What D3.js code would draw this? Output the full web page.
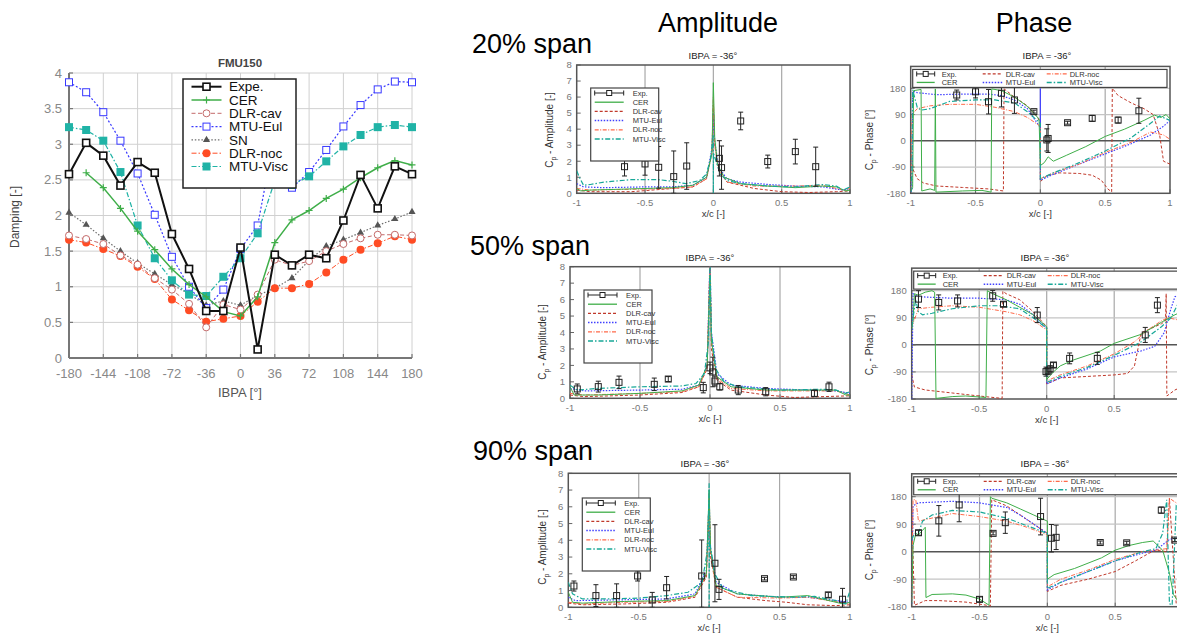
<!DOCTYPE html>
<html><head><meta charset="utf-8">
<script src="https://cdn.jsdelivr.net/npm/d3@7"></script>
<style>body{margin:0;background:#fff;} svg{display:block;font-family:"Liberation Sans",Arial,Helvetica,sans-serif;}</style>
</head><body>
<svg id="c" width="1177" height="635"></svg>
<script>
// ---------------- DATA : damping vs IBPA ----------------
const ibpa = [-180,-162,-144,-126,-108,-90,-72,-54,-36,-18,0,18,36,54,72,90,108,126,144,162,180];
const ibpaTicks = [-180,-144,-108,-72,-36,0,36,72,108,144,180];
const dampTicks = [0,0.5,1,1.5,2,2.5,3,3.5,4];
const expe    = [2.58,3.02,2.84,2.42,2.75,2.60,1.74,1.25,0.66,0.66,1.55,0.12,1.45,1.30,1.45,1.40,1.93,2.57,2.10,2.69,2.58];
const cer     = [null,2.60,2.39,2.10,1.78,1.52,1.25,1.03,0.86,0.65,0.59,0.86,1.62,1.94,2.07,2.24,2.37,2.53,2.67,2.77,2.71];
const dlrCav  = [1.72,1.67,1.60,1.44,1.31,1.12,0.96,0.76,0.43,0.75,0.68,0.89,1.38,1.30,1.36,1.50,1.60,1.68,1.73,1.73,1.72];
const mtuEul  = [3.87,3.73,3.45,3.05,2.59,2.01,1.42,1.00,0.70,0.96,1.53,1.86,3.13,2.39,2.61,2.92,3.25,3.55,3.77,3.88,3.87];
const sn      = [2.04,1.87,1.68,1.50,1.33,1.18,1.03,0.90,0.74,0.80,0.74,0.88,0.98,1.12,1.37,1.57,1.66,1.76,1.86,1.95,2.05];
const dlrNoc  = [1.66,1.62,1.53,1.43,1.28,1.11,0.82,0.67,0.51,0.55,0.59,0.79,0.98,0.98,1.04,1.20,1.38,1.52,1.61,1.71,1.66];
const mtuVisc = [3.24,3.20,3.05,2.61,1.86,1.40,1.09,0.89,0.87,1.14,1.40,1.75,2.49,2.43,2.55,2.76,2.97,3.13,3.24,3.27,3.24];
const leftLegend = ["Expe.","CER","DLR-cav","MTU-Eul","SN","DLR-noc","MTU-Visc"];

// ---------------- DATA : unsteady pressure panels ----------------
const xcTicks = [-1,-0.5,0,0.5,1];
const xcLabels = ["-1","-0.5","0","0.5","1"];
const ampTicks = [0,1,2,3,4,5,6,7,8];
const phaseTicks = [-180,-90,0,90,180];
const smallLegend = ["Exp.","CER","DLR-cav","MTU-Eul","DLR-noc","MTU-Visc"];

// 20% span amplitude
const amp20Exp = [[-0.65,1.66,0.58],[-0.5,1.83,0.7],[-0.4,1.62,1.3],[-0.29,1.04,1.6],[-0.195,1.7,1.45],[0.044,2.18,1.1],[0.06,1.6,1.35],[0.2,4.51,0.55],[0.398,1.98,0.4],[0.6,2.6,0.77],[0.749,1.66,1.22]];
const amp20Cer = [[-1,0.3],[-0.97,0.15],[-0.9,0.2],[-0.7,0.25],[-0.5,0.3],[-0.3,0.35],[-0.15,0.5],[-0.05,1.0],[-0.01,2.5],[0,6.9],[0.01,3.5],[0.03,1.8],[0.08,1.0],[0.2,0.6],[0.4,0.45],[0.6,0.35],[0.8,0.45],[0.9,0.4],[0.97,0.15],[1,0.2]];
const amp20Cav = [[-1,0.2],[-0.9,0.1],[-0.6,0.1],[-0.3,0.3],[-0.15,0.4],[-0.05,0.9],[-0.01,2.5],[0,5.5],[0.01,3],[0.04,1.5],[0.1,0.7],[0.3,0.3],[0.5,0.1],[0.7,0.05],[0.9,0.1],[1,0.15]];
const amp20Eul = [[-1,0.6],[-0.95,0.4],[-0.8,0.35],[-0.5,0.4],[-0.3,0.4],[-0.15,0.5],[-0.05,1.0],[-0.01,2.8],[0,5],[0.01,3.2],[0.04,1.6],[0.1,0.9],[0.2,0.7],[0.4,0.55],[0.6,0.45],[0.8,0.4],[0.95,0.2],[1,0.3]];
const amp20Noc = [[-1,0.3],[-0.9,0.2],[-0.6,0.25],[-0.3,0.3],[-0.15,0.4],[-0.05,0.9],[-0.01,2.6],[0,6],[0.01,3],[0.04,1.4],[0.1,0.7],[0.3,0.45],[0.6,0.45],[0.8,0.5],[0.95,0.2],[1,0.3]];
const amp20Visc = [[-1,1.4],[-0.98,1.0],[-0.95,0.5],[-0.9,0.55],[-0.8,0.7],[-0.6,0.85],[-0.4,0.85],[-0.3,0.75],[-0.2,0.6],[-0.1,0.8],[-0.05,1.2],[-0.02,2.2],[0,3.6],[0,0],[0.001,2.5],[0.05,1.2],[0.1,0.8],[0.2,0.6],[0.4,0.45],[0.6,0.4],[0.8,0.55],[0.9,0.45],[0.95,0.2],[1,0.4]];

// 20% span phase
const ph20Exp = [[-0.645,157,17],[-0.5,168,21],[-0.4,134,42],[-0.3,163,47],[-0.2,140,46],[-0.05,100,5],[0.05,3,38],[0.06,8,48],[0.21,62,5],[0.4,77,10],[0.6,71,10],[0.76,103,43]];
const ph20Cer = [[-1,-175],[-0.985,-160],[-0.978,172],[-0.92,176],[-0.915,-172],[-0.85,-165],[-0.815,-170],[-0.81,178],[-0.805,-176],[-0.6,-172],[-0.45,-170],[-0.38,-176],[-0.375,178],[-0.3,172],[-0.2,150],[-0.1,118],[-0.01,75],[0,-85],[0.03,-75],[0.06,-55],[0.1,-70],[0.2,-50],[0.35,-20],[0.5,15],[0.65,40],[0.8,70],[0.88,88],[0.93,80],[0.97,90],[1,75]];
const ph20Cav = [[-1,-30],[-0.98,-100],[-0.95,-130],[-0.9,-145],[-0.8,-155],[-0.6,-160],[-0.4,-165],[-0.285,-172],[-0.28,178],[-0.2,150],[-0.1,120],[-0.02,80],[0,60],[0,-140],[0.05,-120],[0.15,-110],[0.3,-112],[0.4,-118],[0.47,-135],[0.52,-165],[0.55,-175],[0.555,180],[0.6,155],[0.7,130],[0.8,110],[0.87,90],[0.92,20],[0.95,-70],[1,-80]];
const ph20Eul = [[-1,-175],[-0.99,-170],[-0.985,170],[-0.95,165],[-0.8,158],[-0.6,160],[-0.4,160],[-0.3,155],[-0.2,140],[-0.1,110],[0,45],[0,180],[0,-135],[0.1,-115],[0.3,-80],[0.5,-45],[0.7,-10],[0.85,20],[0.95,50],[1,70]];
const ph20Noc = [[-1,-170],[-0.99,90],[-0.95,110],[-0.85,120],[-0.7,125],[-0.5,125],[-0.35,115],[-0.2,100],[-0.1,80],[0,50],[0,-130],[0.1,-110],[0.3,-80],[0.5,-40],[0.7,-5],[0.85,30],[0.95,20],[1,5]];
const ph20Visc = [[-1,-175],[-0.99,-100],[-0.985,175],[-0.97,150],[-0.95,115],[-0.92,105],[-0.85,110],[-0.7,135],[-0.5,140],[-0.35,140],[-0.2,130],[-0.1,100],[0,60],[0,-130],[0.1,-110],[0.3,-75],[0.5,-35],[0.7,10],[0.85,60],[0.92,85],[1,70]];

// 50% span amplitude
const amp50Exp = [[-0.948,0.57,0.3],[-0.798,0.71,0.33],[-0.65,0.97,0.38],[-0.398,0.85,0.38],[-0.298,1.17,0.15],[-0.048,0.65,0.32],[0.0,1.85,0.35],[0.02,1.6,0.9],[0.035,1.05,0.3],[0.07,0.7,0.2],[0.202,0.5,0.28],[0.398,0.4,0.25],[0.746,0.3,0.2],[0.85,0.7,0.28]];
const amp50Cer = [[-1,0.7],[-0.97,0.2],[-0.8,0.2],[-0.5,0.3],[-0.2,0.45],[-0.08,0.8],[-0.02,2],[0,7.5],[0.01,3.5],[0.05,1.3],[0.15,0.7],[0.4,0.5],[0.7,0.5],[0.9,0.5],[0.97,0.2],[1,0.2]];
const amp50Cav = [[-1,0.2],[-0.9,0.1],[-0.5,0.2],[-0.2,0.35],[-0.08,0.7],[-0.02,1.8],[0,8.5],[0.01,3],[0.05,1.1],[0.15,0.5],[0.4,0.2],[0.6,0.05],[0.8,0.1],[1,0.15]];
const amp50Eul = [[-1,0.6],[-0.9,0.45],[-0.5,0.5],[-0.2,0.55],[-0.08,0.8],[-0.02,2],[0,8.5],[0.01,4],[0.05,1.5],[0.15,0.8],[0.4,0.6],[0.7,0.5],[0.9,0.45],[1,0.3]];
const amp50Noc = [[-1,0.3],[-0.9,0.2],[-0.5,0.3],[-0.2,0.4],[-0.08,0.7],[-0.02,1.9],[0,8.5],[0.01,3.5],[0.05,1.2],[0.15,0.6],[0.4,0.45],[0.7,0.45],[0.9,0.45],[1,0.2]];
const amp50Visc = [[-1,0.8],[-0.95,0.5],[-0.8,0.6],[-0.5,0.7],[-0.2,0.75],[-0.1,0.9],[-0.04,1.5],[-0.01,3.5],[0,8.5],[0.01,4],[0.04,1.8],[0.1,1.0],[0.2,0.7],[0.5,0.5],[0.8,0.55],[0.9,0.5],[0.97,0.3],[1,0.4]];

// 50% span phase
const ph50Exp = [[-0.95,152,28],[-0.8,141,25],[-0.66,146,20],[-0.4,163,18],[-0.32,135,8],[-0.07,99,25],[-0.005,-89,15],[0.01,-87,10],[0.025,-80,10],[0.05,-67,8],[0.17,-45,18],[0.375,-45,20],[0.73,33,25],[0.82,132,25]];
const ph50Cer = [[-1,50],[-0.99,80],[-0.98,170],[-0.95,165],[-0.9,175],[-0.85,180],[-0.83,175],[-0.82,-178],[-0.7,-172],[-0.6,-170],[-0.45,-175],[-0.44,180],[-0.4,170],[-0.3,150],[-0.2,125],[-0.1,100],[0,60],[0,-115],[0.05,-90],[0.1,-70],[0.2,-50],[0.4,-20],[0.5,5],[0.7,35],[0.85,75],[0.95,100],[1,110]];
const ph50Cav = [[-1,-100],[-0.98,-140],[-0.9,-150],[-0.7,-160],[-0.5,-170],[-0.33,-178],[-0.325,178],[-0.3,170],[-0.2,150],[-0.1,110],[0,60],[0,-130],[0.1,-110],[0.3,-105],[0.5,-100],[0.6,-95],[0.65,-70],[0.7,40],[0.8,60],[0.85,70],[0.88,80],[0.885,170],[0.89,-170],[0.95,-150],[1,-140]];
const ph50Eul = [[-1,-180],[-0.99,170],[-0.95,160],[-0.7,155],[-0.5,155],[-0.3,150],[-0.2,135],[-0.1,100],[0,55],[0,-130],[0.1,-110],[0.3,-80],[0.5,-40],[0.7,-20],[0.8,-5],[0.87,40],[0.92,120],[0.95,160],[1,170]];
const ph50Noc = [[-1,60],[-0.95,120],[-0.85,125],[-0.7,130],[-0.5,125],[-0.3,110],[-0.2,100],[-0.1,80],[0,50],[0,-120],[0.1,-100],[0.3,-70],[0.5,-30],[0.65,10],[0.75,50],[0.85,80],[0.9,90],[1,80]];
const ph50Visc = [[-1,60],[-0.97,150],[-0.95,110],[-0.92,100],[-0.85,105],[-0.7,120],[-0.5,130],[-0.35,130],[-0.2,120],[-0.1,90],[0,55],[0,-125],[0.1,-105],[0.3,-75],[0.5,-35],[0.7,10],[0.85,60],[0.92,90],[1,160]];

// 90% span amplitude
const amp90Exp = [[-0.96,1.27,0.3],[-0.804,0.7,0.65],[-0.657,0.7,0.7],[-0.508,1.87,0.3],[-0.404,0.44,0.45],[-0.302,1.17,0.67],[-0.053,1.87,2.15],[0.041,2.63,2.3],[0.07,1.07,0.6],[0.393,1.71,0.08],[0.598,1.81,0.08],[0.846,0.74,0.15],[0.947,0.48,0.65]];
const amp90Cer = [[-1,0.9],[-0.97,0.3],[-0.9,0.25],[-0.6,0.35],[-0.3,0.4],[-0.1,0.7],[-0.02,2],[0,7],[0.01,3.5],[0.05,1.3],[0.2,0.8],[0.5,0.6],[0.7,0.7],[0.85,0.4],[0.95,0.2],[1,0.3]];
const amp90Cav = [[-1,0.25],[-0.9,0.15],[-0.6,0.2],[-0.3,0.3],[-0.1,0.6],[-0.02,1.8],[0,6],[0.01,3],[0.05,1.2],[0.2,0.6],[0.4,0.4],[0.55,0.3],[0.7,0.15],[0.9,0.1],[1,0.15]];
const amp90Eul = [[-1,0.6],[-0.95,0.4],[-0.6,0.45],[-0.3,0.5],[-0.1,0.8],[-0.02,2.2],[0,6.5],[0.01,3.5],[0.05,1.5],[0.2,0.8],[0.5,0.6],[0.7,0.6],[0.85,0.45],[1,0.3]];
const amp90Noc = [[-1,0.3],[-0.9,0.2],[-0.6,0.3],[-0.3,0.35],[-0.1,0.65],[-0.02,1.9],[0,6.8],[0.01,3.2],[0.05,1.2],[0.2,0.6],[0.5,0.55],[0.7,0.6],[0.85,0.4],[1,0.2]];
const amp90Visc = [[-1,1.5],[-0.97,0.8],[-0.9,0.5],[-0.7,0.5],[-0.5,0.55],[-0.3,0.7],[-0.15,0.9],[-0.05,1.5],[-0.01,3.5],[0,7.4],[0,0],[0.002,4],[0.04,2],[0.1,1.1],[0.3,0.7],[0.6,0.6],[0.75,0.65],[0.9,0.4],[0.97,0.2],[1,1.0]];

// 90% span phase
const ph90Exp = [[-0.95,62,8],[-0.8,101,50],[-0.65,153,55],[-0.5,-156,8],[-0.4,60,5],[-0.31,95,35],[-0.05,115,60],[0.03,44,45],[0.065,47,40],[0.39,30,5],[0.585,29,5],[0.84,136,10],[0.94,38,5]];
const ph90Cer = [[-1,-170],[-0.99,20],[-0.97,60],[-0.95,55],[-0.92,70],[-0.9,80],[-0.895,-150],[-0.85,-140],[-0.7,-138],[-0.6,-142],[-0.5,-155],[-0.43,-175],[-0.42,180],[-0.41,175],[-0.3,160],[-0.2,140],[-0.1,120],[0,100],[0,-90],[0.05,-75],[0.2,-55],[0.4,-20],[0.5,5],[0.6,20],[0.7,30],[0.78,35],[0.85,5],[0.9,-70],[0.93,-140],[0.96,-160],[1,-165]];
const ph90Cav = [[-1,150],[-0.98,-175],[-0.95,-170],[-0.9,-160],[-0.8,-160],[-0.6,-165],[-0.45,-175],[-0.42,-178],[-0.41,170],[-0.3,150],[-0.2,120],[-0.1,90],[0,60],[0,-130],[0.1,-110],[0.3,-90],[0.5,-65],[0.65,-30],[0.75,-5],[0.8,5],[0.88,0],[0.9,175],[0.95,-170],[1,-175]];
const ph90Eul = [[-1,-170],[-0.99,150],[-0.95,160],[-0.7,165],[-0.5,160],[-0.3,145],[-0.2,120],[-0.1,90],[0,60],[0,-125],[0.1,-100],[0.3,-65],[0.5,-30],[0.7,-5],[0.8,5],[0.9,40],[1,50]];
const ph90Noc = [[-1,-160],[-0.99,170],[-0.97,170],[-0.95,100],[-0.85,110],[-0.7,125],[-0.5,115],[-0.3,100],[-0.15,80],[0,55],[0,-115],[0.1,-90],[0.3,-60],[0.5,-25],[0.7,0],[0.8,5],[0.88,10],[0.9,175],[0.95,160],[1,150]];
const ph90Visc = [[-1,40],[-0.98,60],[-0.95,60],[-0.92,100],[-0.85,120],[-0.7,135],[-0.5,130],[-0.3,110],[-0.15,85],[0,60],[0,-120],[0.1,-100],[0.3,-65],[0.5,-30],[0.7,0],[0.8,10],[0.85,60],[0.88,170],[0.9,-170],[0.92,-175],[0.95,150],[1,130]];

// ---------------- DRAWING ----------------
const svg = d3.select("#c");
svg.append("rect").attr("width",1177).attr("height",635).attr("fill","#fff");
const W = 1177;

// ===== Left chart =====
(function(){
  const x = d3.scaleLinear().domain([-180,180]).range([69,412]);
  const y = d3.scaleLinear().domain([0,4]).range([358,73]);
  const g = svg.append("g");
  g.selectAll(".gx").data(ibpaTicks).join("line")
    .attr("x1",d=>x(d)).attr("x2",d=>x(d)).attr("y1",y(4)).attr("y2",y(0))
    .attr("stroke","#d0d0d0").attr("stroke-width",1);
  g.selectAll(".gy").data(dampTicks).join("line")
    .attr("x1",x(-180)).attr("x2",x(180)).attr("y1",d=>y(d)).attr("y2",d=>y(d))
    .attr("stroke","#d0d0d0").attr("stroke-width",1);
  g.selectAll(".tx").data(ibpaTicks).join("line")
    .attr("x1",d=>x(d)).attr("x2",d=>x(d)).attr("y1",y(0)).attr("y2",y(0)-4)
    .attr("stroke","#777").attr("stroke-width",1.2);
  g.selectAll(".ty").data(dampTicks).join("line")
    .attr("x1",x(-180)).attr("x2",x(-180)+4).attr("y1",d=>y(d)).attr("y2",d=>y(d))
    .attr("stroke","#777").attr("stroke-width",1.2);
  g.append("line").attr("x1",x(-180)).attr("x2",x(-180)).attr("y1",y(4)).attr("y2",y(0)).attr("stroke","#777").attr("stroke-width",2);
  g.append("line").attr("x1",x(-180)).attr("x2",x(180)).attr("y1",y(0)).attr("y2",y(0)).attr("stroke","#777").attr("stroke-width",2);

  g.selectAll(".lx").data(ibpaTicks).join("text")
    .attr("x",d=>x(d)).attr("y",y(0)+20).attr("text-anchor","middle")
    .attr("font-size",13).attr("fill","#888").text(d=>d);
  g.selectAll(".ly").data(dampTicks).join("text")
    .attr("x",62).attr("y",d=>y(d)+4.5).attr("text-anchor","end")
    .attr("font-size",13).attr("fill","#888").text(d=>d);
  g.append("text").attr("x",240).attr("y",67).attr("text-anchor","middle").attr("font-size",11.5).attr("font-weight","bold").attr("fill","#444").text("FMU150");
  g.append("text").attr("x",240).attr("y",397).attr("text-anchor","middle").attr("font-size",13).attr("fill","#555").text("IBPA [°]");
  g.append("text").attr("transform","translate(19,217) rotate(-90)").attr("text-anchor","middle").attr("font-size",12).attr("fill","#444").text("Damping [-]");

  const styles = [
    {key:"sn", vals:sn, color:"#6e6e6e", dash:"1.5,1.8", w:1.2, m:"tri"},
    {key:"noc", vals:dlrNoc, color:"#ff4c24", dash:"5,2,1.5,2", w:1, m:"circFill"},
    {key:"cav", vals:dlrCav, color:"#c46a6a", dash:"4,2.5", w:1, m:"circOpen"},
    {key:"eul", vals:mtuEul, color:"#3838ff", dash:"2,2", w:1.2, m:"sqOpen"},
    {key:"visc", vals:mtuVisc, color:"#20b3a6", dash:"5,2,1.5,2", w:1.2, m:"sqFill"},
    {key:"cer", vals:cer, color:"#3fae49", dash:null, w:1.5, m:"plus"},
    {key:"expe", vals:expe, color:"#111", dash:null, w:2, m:"sqBlack"}
  ];
  function marker(sel, m, color){
    if(m==="tri") sel.append("path").attr("d",d3.symbol(d3.symbolTriangle,22)()).attr("fill","#555");
    else if(m==="circFill") sel.append("circle").attr("r",4).attr("fill",color);
    else if(m==="circOpen") sel.append("circle").attr("r",3.5).attr("fill","#fff").attr("stroke",color).attr("stroke-width",1);
    else if(m==="sqOpen") sel.append("rect").attr("x",-3.5).attr("y",-3.5).attr("width",7).attr("height",7).attr("fill","#fff").attr("stroke",color).attr("stroke-width",1);
    else if(m==="sqFill") sel.append("rect").attr("x",-4).attr("y",-4).attr("width",8).attr("height",8).attr("fill",color);
    else if(m==="plus") sel.append("path").attr("d","M-3.5,0H3.5M0,-3.5V3.5").attr("stroke",color).attr("stroke-width",1.2);
    else if(m==="sqBlack") sel.append("rect").attr("x",-3.5).attr("y",-3.5).attr("width",7).attr("height",7).attr("fill","#fff").attr("stroke",color).attr("stroke-width",1.6);
  }
  const line = d3.line().defined(d=>d[1]!=null).x(d=>x(d[0])).y(d=>y(d[1]));
  styles.forEach(s=>{
    const pts = ibpa.map((a,i)=>[a,s.vals[i]]);
    g.append("path").attr("d",line(pts)).attr("fill","none").attr("stroke",s.color)
      .attr("stroke-width",s.w).attr("stroke-dasharray",s.dash);
    g.selectAll(".m"+s.key).data(pts.filter(p=>p[1]!=null)).join("g")
      .attr("transform",d=>`translate(${x(d[0])},${y(d[1])})`)
      .each(function(){ marker(d3.select(this), s.m, s.color); });
  });
  // legend
  const lg = g.append("g");
  lg.append("rect").attr("x",183).attr("y",79).attr("width",113).attr("height",109).attr("fill","#fff").attr("stroke","#222").attr("stroke-width",1.5);
  const order = ["expe","cer","cav","eul","sn","noc","visc"];
  order.forEach((k,i)=>{
    const s = styles.find(t=>t.key===k);
    const yy = 86.7 + i*13.3;
    lg.append("line").attr("x1",191.5).attr("x2",221.5).attr("y1",yy).attr("y2",yy)
      .attr("stroke",s.color).attr("stroke-width",s.w).attr("stroke-dasharray",s.dash);
    const mg = lg.append("g").attr("transform",`translate(206.5,${yy})`);
    marker(mg, s.m, s.color);
    lg.append("text").attr("x",229).attr("y",yy+4.6).attr("font-size",13.5).attr("fill","#111").text(leftLegend[i]);
  });
})();

// ===== Headers =====
svg.append("text").attr("x",718).attr("y",32).attr("text-anchor","middle").attr("font-size",27).attr("fill","#000").text("Amplitude");
svg.append("text").attr("x",1034).attr("y",32).attr("text-anchor","middle").attr("font-size",27).attr("fill","#000").text("Phase");
[["20% span",472,53],["50% span",470,255],["90% span",473,460]].forEach(t=>{
  svg.append("text").attr("x",t[1]).attr("y",t[2]).attr("font-size",27).attr("fill","#000").text(t[0]);
});

// ===== Small panels =====
const curveStyles = {
  cav:  {color:"#c0392b", dash:"3,2", w:1},
  eul:  {color:"#4040ff", dash:"1.5,1.5", w:1.2},
  noc:  {color:"#ff6a4a", dash:"4,1.5,1,1.5", w:1},
  cer:  {color:"#3fae49", dash:null, w:1},
  visc: {color:"#18a898", dash:"5,2,1.5,2", w:1.2}
};
const legendKeys = ["exp","cer","cav","eul","noc","visc"];
const phaseTop = 255;
let clipN = 0;

function panel(o){
  const g = svg.append("g");
  const x = d3.scaleLinear().domain([-1,1]).range([o.x0,o.x1]);
  let y, top, yt;
  if(o.type==="amp"){
    y = d3.scaleLinear().domain([0,8]).range([o.yb,o.yt]); top = y(8); yt = ampTicks;
  } else {
    y = d3.scaleLinear().domain([-180,180]).range([o.yb,o.yt]); top = y(phaseTop); yt = phaseTicks;
  }
  const bottom = o.yb;
  const cid = "cl"+(clipN++);
  svg.append("clipPath").attr("id",cid).append("rect").attr("x",o.x0).attr("y",top).attr("width",o.x1-o.x0).attr("height",bottom-top);

  g.selectAll(".vg").data([-0.5,0,0.5]).join("line")
    .attr("x1",d=>x(d)).attr("x2",d=>x(d)).attr("y1",top).attr("y2",bottom).attr("stroke","#a8a8a8").attr("stroke-width",1.2);
  if(o.type==="phase"){
    g.selectAll(".hg").data([-90,90,180]).join("line")
      .attr("x1",o.x0).attr("x2",o.x1).attr("y1",d=>y(d)).attr("y2",d=>y(d)).attr("stroke","#c4c4c4").attr("stroke-width",1.2);
    g.append("line").attr("x1",o.x0).attr("x2",o.x1).attr("y1",y(0)).attr("y2",y(0)).attr("stroke","#555").attr("stroke-width",1.5);
  }
  g.selectAll(".yt").data(yt).join("line")
    .attr("x1",o.x0).attr("x2",o.x0+4).attr("y1",d=>y(d)).attr("y2",d=>y(d)).attr("stroke","#666");
  g.selectAll(".xt").data(xcTicks).join("line")
    .attr("x1",d=>x(d)).attr("x2",d=>x(d)).attr("y1",bottom).attr("y2",bottom-4).attr("stroke","#666");
  g.append("rect").attr("x",o.x0).attr("y",top).attr("width",o.x1-o.x0).attr("height",bottom-top)
    .attr("fill","none").attr("stroke","#555").attr("stroke-width",1.5);

  const line = d3.line().x(d=>x(d[0])).y(d=>y(d[1]));
  const cg = g.append("g").attr("clip-path",`url(#${cid})`);
  ["cav","eul","noc","cer","visc"].forEach(k=>{
    const s = curveStyles[k];
    cg.append("path").attr("d",line(o.curves[k])).attr("fill","none").attr("stroke",s.color)
      .attr("stroke-width",s.w).attr("stroke-dasharray",s.dash);
  });
  const eg = cg.append("g");
  o.exp.forEach(d=>{
    const cx = x(d[0]), cy = y(d[1]), y1 = y(d[1]+d[2]), y2 = y(Math.max(o.type==="amp"?0:-180, d[1]-d[2]));
    eg.append("line").attr("x1",cx).attr("x2",cx).attr("y1",y1).attr("y2",y2).attr("stroke","#222").attr("stroke-width",1);
    eg.append("line").attr("x1",cx-2.5).attr("x2",cx+2.5).attr("y1",y1).attr("y2",y1).attr("stroke","#222").attr("stroke-width",1);
    eg.append("line").attr("x1",cx-2.5).attr("x2",cx+2.5).attr("y1",y2).attr("y2",y2).attr("stroke","#222").attr("stroke-width",1);
    eg.append("rect").attr("x",cx-3).attr("y",cy-3).attr("width",6).attr("height",6).attr("fill","none").attr("stroke","#222").attr("stroke-width",1);
  });

  // labels (ticks beyond the picture edge are not drawn, as in the cropped original)
  const vis = xcTicks.map((d,i)=>({v:d,l:xcLabels[i]})).filter(t=>x(t.v) < W-4);
  g.selectAll(".xl").data(vis).join("text")
    .attr("x",d=>x(d.v)).attr("y",bottom+13).attr("text-anchor","middle").attr("font-size",9.5).attr("fill","#777")
    .text(d=>d.l);
  g.selectAll(".yl").data(yt).join("text")
    .attr("x",o.x0-5).attr("y",d=>y(d)+3.3).attr("text-anchor","end").attr("font-size",9.5).attr("fill","#777")
    .text(d=>d);
  g.append("text").attr("x",x(0)).attr("y",bottom+24).attr("text-anchor","middle")
    .attr("font-size",9.5).attr("fill","#333").text("x/c [-]");
  g.append("text").attr("x",o.title[0]).attr("y",o.title[1]+3.5).attr("text-anchor","middle").attr("font-size",9.5).attr("fill","#222").text("IBPA = -36°");
  const yl = g.append("text").attr("transform",`translate(${o.ylab[0]},${o.ylab[1]}) rotate(-90)`)
    .attr("text-anchor","middle").attr("font-size",10).attr("fill","#333");
  yl.append("tspan").text("C");
  yl.append("tspan").attr("font-size",7).attr("dy",3).text("p");
  yl.append("tspan").attr("dy",-3).text(o.type==="amp" ? " - Amplitude [-]" : " - Phase [°]");

  function sample(lg, k, x1, x2, yy){
    if(k==="exp"){
      lg.append("line").attr("x1",x1).attr("x2",x2).attr("y1",yy).attr("y2",yy).attr("stroke","#222");
      lg.append("line").attr("x1",x1).attr("x2",x1).attr("y1",yy-2.5).attr("y2",yy+2.5).attr("stroke","#222");
      lg.append("line").attr("x1",x2).attr("x2",x2).attr("y1",yy-2.5).attr("y2",yy+2.5).attr("stroke","#222");
      lg.append("rect").attr("x",(x1+x2)/2-2.5).attr("y",yy-2.5).attr("width",5).attr("height",5).attr("fill","#fff").attr("stroke","#222");
    } else {
      const s = curveStyles[k];
      lg.append("line").attr("x1",x1).attr("x2",x2).attr("y1",yy).attr("y2",yy).attr("stroke",s.color)
        .attr("stroke-width",s.w+0.3).attr("stroke-dasharray",s.dash);
    }
  }
  const lg = g.append("g");
  if(o.type==="amp"){
    const lx = o.x0+14, ly = o.legTop;
    lg.append("rect").attr("x",lx).attr("y",ly).attr("width",68).attr("height",73).attr("fill","#fff").attr("stroke","#444").attr("stroke-width",1.2);
    legendKeys.forEach((k,i)=>{
      const yy = ly + 5 + i*9.2;
      sample(lg,k,lx+4,lx+33,yy);
      lg.append("text").attr("x",lx+42).attr("y",yy+2.6).attr("font-size",7.5).attr("fill","#333").text(smallLegend[i]);
    });
  } else {
    const lx = o.x0+2, ly = top+3;
    lg.append("rect").attr("x",lx).attr("y",ly).attr("width",Math.min(o.x1,1200)-o.x0-5).attr("height",18).attr("fill","#fff").attr("stroke","#444").attr("stroke-width",1.2);
    const cols = [[4,22,29],[70,90,93],[134,154,157]];
    legendKeys.forEach((k,i)=>{
      const c = cols[Math.floor(i/2)], yy = ly + 4.5 + (i%2)*8.5;
      sample(lg,k,lx+c[0],lx+c[1],yy);
      lg.append("text").attr("x",lx+c[2]).attr("y",yy+2.6).attr("font-size",7.5).attr("fill","#333").text(smallLegend[i]);
    });
  }
}

panel({type:"amp", x0:576.7, x1:850, yt:65, yb:193.3, title:[713,55], ylab:[553,130], legTop:88,
  exp:amp20Exp, curves:{cer:amp20Cer,cav:amp20Cav,eul:amp20Eul,noc:amp20Noc,visc:amp20Visc}});
panel({type:"phase", x0:910.7, x1:1170, yt:88.3, yb:193.3, title:[1047,55], ylab:[873,140],
  exp:ph20Exp, curves:{cer:ph20Cer,cav:ph20Cav,eul:ph20Eul,noc:ph20Noc,visc:ph20Visc}});
panel({type:"amp", x0:570, x1:850, yt:266.7, yb:398.3, title:[710,257], ylab:[546,342], legTop:290,
  exp:amp50Exp, curves:{cer:amp50Cer,cav:amp50Cav,eul:amp50Eul,noc:amp50Noc,visc:amp50Visc}});
panel({type:"phase", x0:911.7, x1:1181.7, yt:290.7, yb:399, title:[1045,257], ylab:[873,345],
  exp:ph50Exp, curves:{cer:ph50Cer,cav:ph50Cav,eul:ph50Eul,noc:ph50Noc,visc:ph50Visc}});
panel({type:"amp", x0:568.3, x1:850, yt:473.3, yb:607.3, title:[705,463], ylab:[546,547], legTop:498,
  exp:amp90Exp, curves:{cer:amp90Cer,cav:amp90Cav,eul:amp90Eul,noc:amp90Noc,visc:amp90Visc}});
panel({type:"phase", x0:911.7, x1:1183, yt:496.7, yb:606.7, title:[1045,463], ylab:[873,550],
  exp:ph90Exp, curves:{cer:ph90Cer,cav:ph90Cav,eul:ph90Eul,noc:ph90Noc,visc:ph90Visc}});
</script>
</body></html>
